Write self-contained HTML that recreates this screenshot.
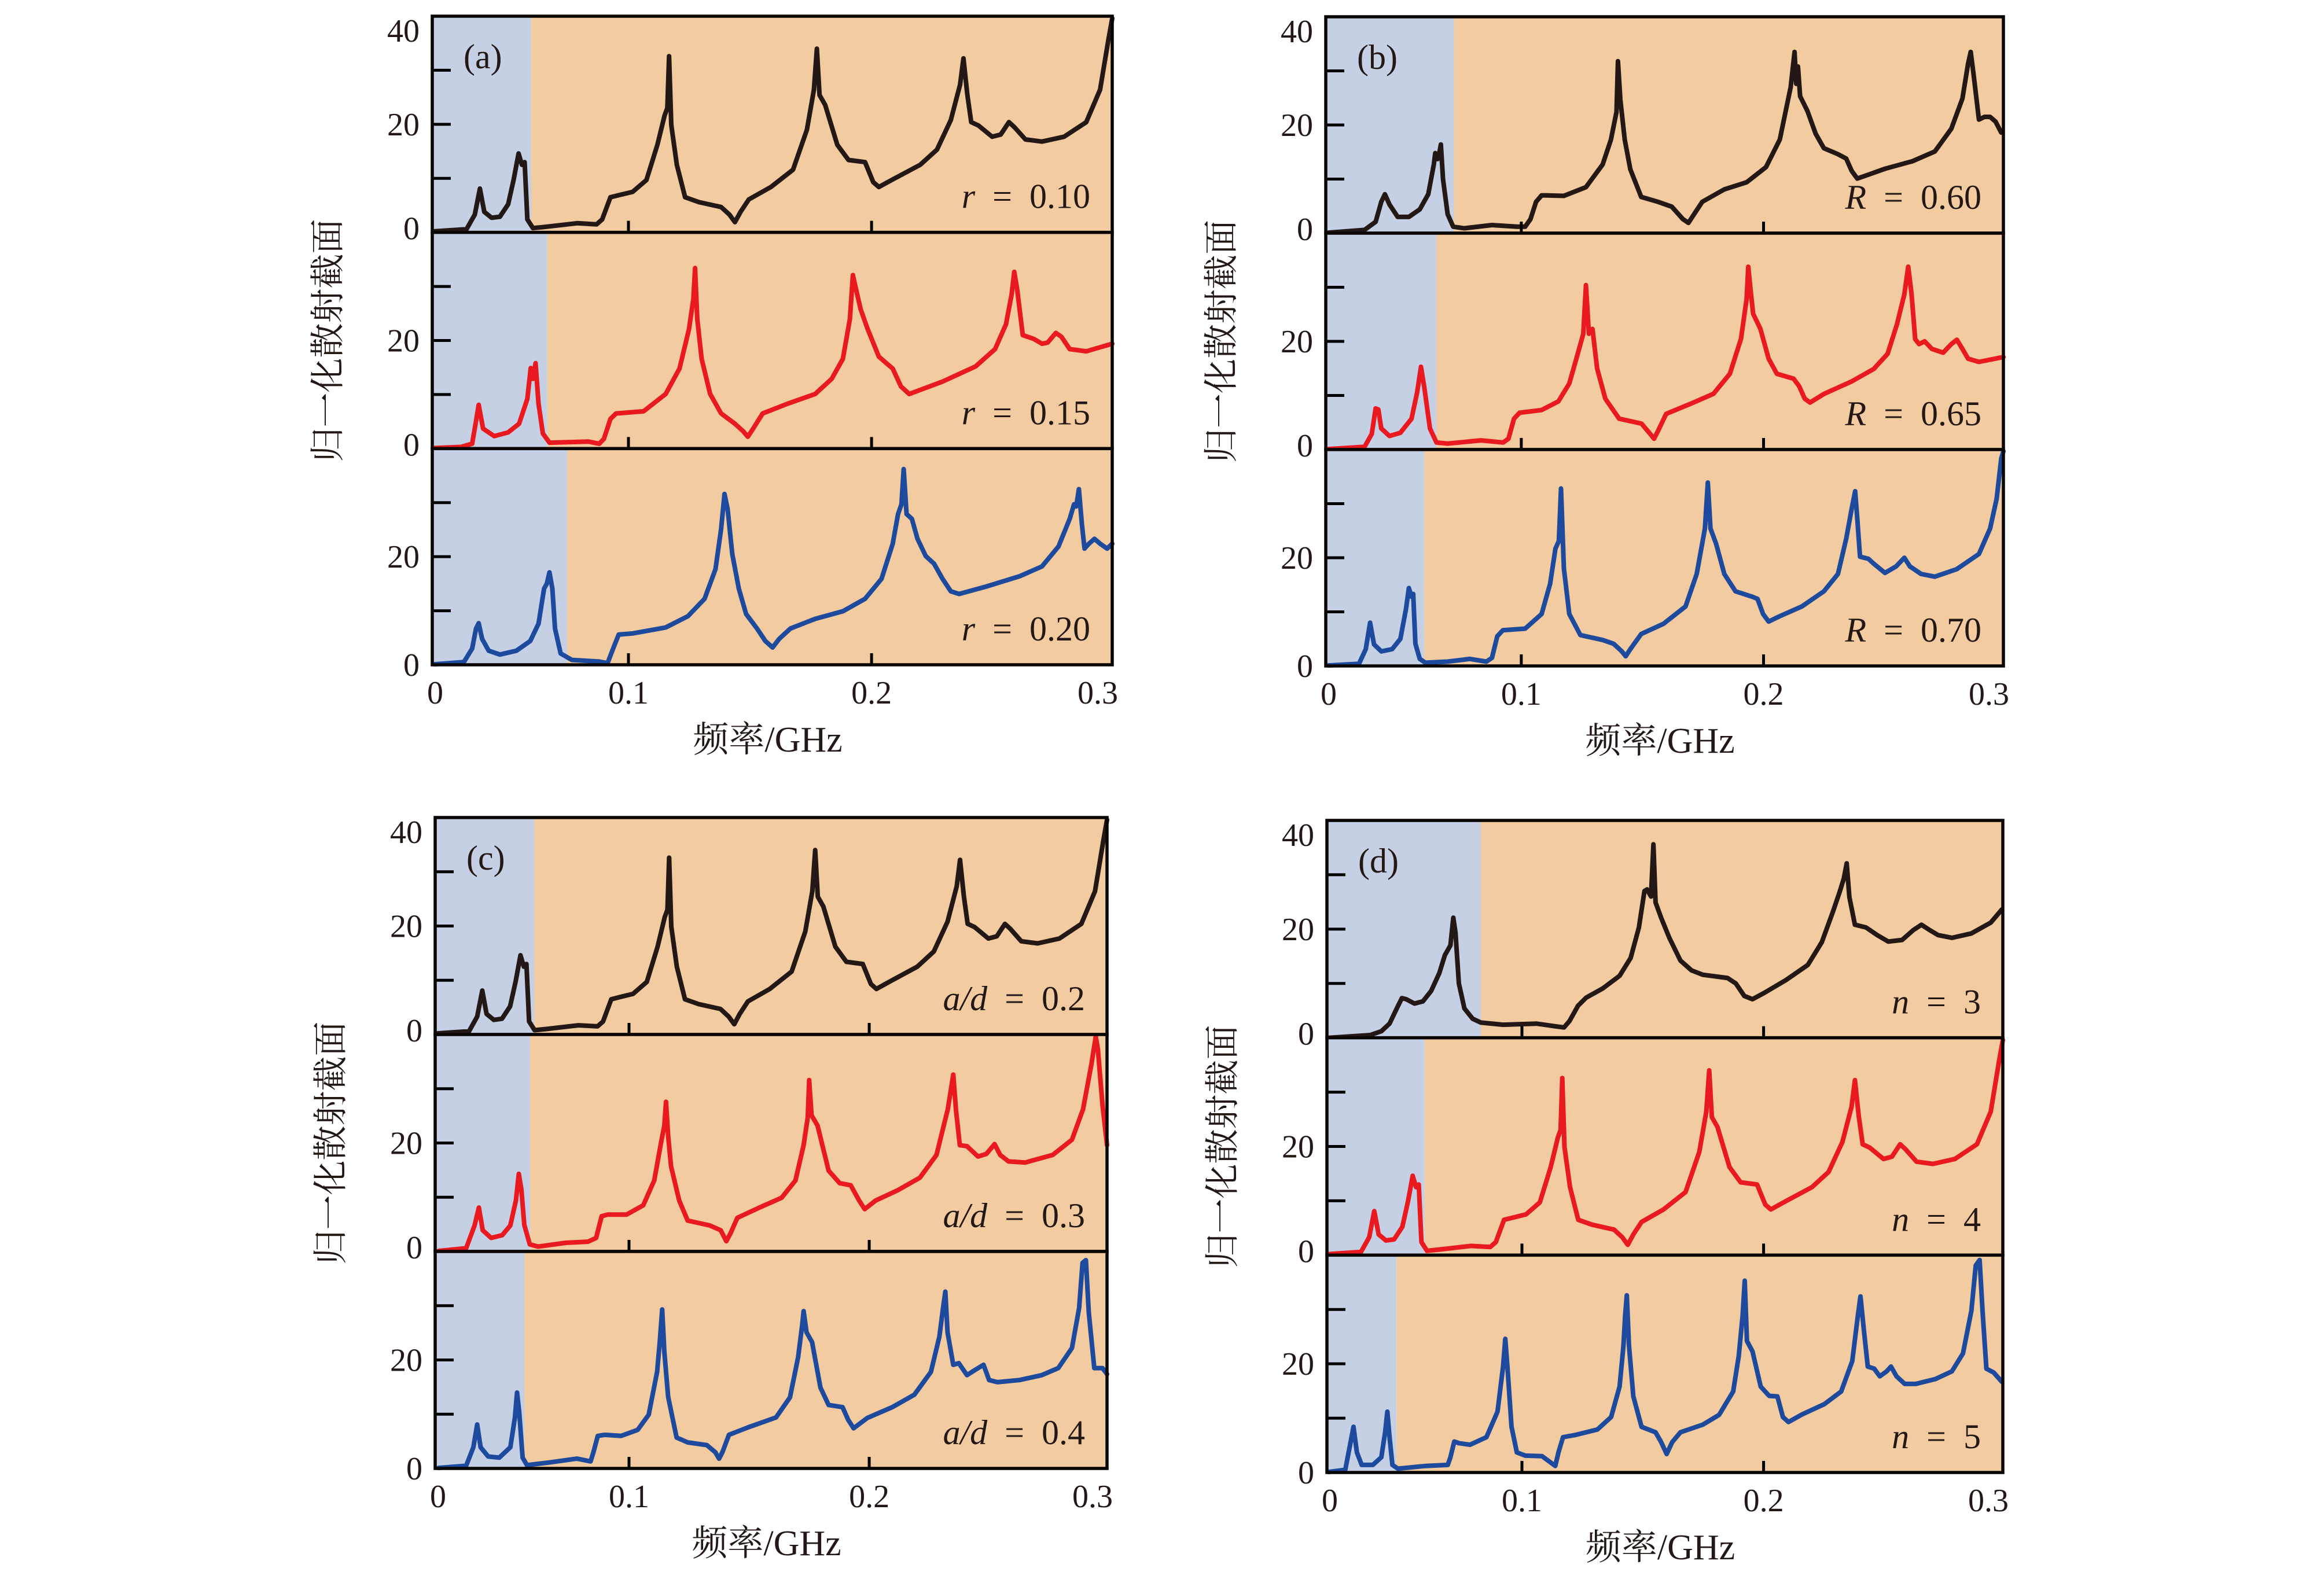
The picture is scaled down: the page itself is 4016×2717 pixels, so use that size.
<!DOCTYPE html>
<html><head><meta charset="utf-8"><style>
html,body{margin:0;padding:0;background:#fff;}
svg{display:block;}
text{font-family:"Liberation Serif","Noto Serif CJK SC",serif;fill:#231815;}
</style></head><body>
<svg id="fig" xmlns="http://www.w3.org/2000/svg" width="4016" height="2717" viewBox="0 0 4016 2717"></svg>
<script>
// ---- data: frequency (GHz) and normalized cross section ----
const a1F=[.0202,.0334,.0368,.0389,.0407,.0437,.0471,.0505,.0528,.0548,.0562,.0573,.0584,.0607,.0653,.0789,.0869,.0892,.0926,.0971,.1017,.1074,.1119,.1149,.1160,.1167,.1176,.1199,.1233,.1290,.1381,.1415,.1438,.1461,.1495,.1586,.1677,.1734,.1763,.1775,.1786,.1809,.1859,.1905,.1973,.2007,.2030,.2087,.2200,.2269,.2326,.2364,.2378,.2394,.2410,.2439,.2496,.2531,.2565,.2587,.2633,.2701,.2792,.2883,.2940,.2974,.2990];
const a1V=[0.2,0.6,3.3,8.1,3.8,2.7,2.9,5.2,9.8,14.6,12.5,13.0,2.4,0.8,1.0,1.7,1.5,2.4,6.5,7.0,7.5,9.7,16.2,21.7,23.0,32.6,19.9,12.5,6.5,5.6,4.7,3.3,1.9,3.8,6.1,8.4,11.6,19.0,26.4,34.0,25.4,23.6,16.2,13.4,13.0,9.3,8.4,9.8,12.5,15.3,20.8,27.3,32.2,25.5,20.4,19.8,17.7,18.1,20.4,19.5,17.2,16.8,17.7,20.4,26.4,35.6,39.6];
const a2F=[.0202,.0311,.0357,.0373,.0384,.0402,.0448,.0505,.0550,.0584,.0598,.0607,.0618,.0630,.0648,.0675,.0835,.0880,.0899,.0926,.0949,.1062,.1153,.1210,.1249,.1267,.1274,.1283,.1301,.1336,.1381,.1438,.1472,.1491,.1513,.1552,.1654,.1768,.1836,.1882,.1911,.1923,.1936,.1955,.1984,.2030,.2087,.2121,.2155,.2292,.2428,.2508,.2553,.2576,.2587,.2599,.2622,.2667,.2701,.2724,.2758,.2781,.2815,.2883,.2990];
const a2V=[0.1,0.3,0.9,5.1,8.1,3.7,2.3,3.0,4.6,9.2,14.9,12.9,15.8,8.3,2.8,1.1,1.3,0.9,1.8,5.5,6.5,6.9,10.1,14.8,22.1,27.7,33.4,24.0,16.6,10.1,6.5,4.6,3.2,2.2,3.7,6.5,8.3,10.1,12.9,16.6,24.0,32.1,29.5,25.8,22.1,17.0,14.8,11.5,10.1,12.4,15.2,18.4,23.0,28.5,32.7,29.5,21.0,20.3,19.4,19.6,21.4,20.7,18.4,18.0,19.4];
const a3F=[.0202,.0323,.0357,.0373,.0384,.0398,.0425,.0471,.0539,.0596,.0630,.0653,.0664,.0675,.0687,.0698,.0721,.0767,.0880,.0914,.0937,.0960,.1017,.1153,.1245,.1313,.1358,.1381,.1395,.1408,.1427,.1454,.1484,.1529,.1563,.1593,.1620,.1666,.1768,.1882,.1973,.2041,.2087,.2109,.2123,.2132,.2144,.2166,.2189,.2223,.2257,.2292,.2326,.2360,.2474,.2610,.2701,.2769,.2815,.2833,.2842,.2853,.2865,.2876,.2894,.2917,.2940,.2969,.2990];
const a3V=[0.1,0.5,3.0,6.7,7.7,4.8,2.6,1.9,2.6,4.4,7.6,14.1,15.0,17.1,14.1,6.7,2.1,0.9,0.6,0.3,3.0,5.6,5.8,6.9,9.0,12.2,17.7,25.1,31.6,28.8,20.5,14.1,9.4,6.7,4.4,3.2,4.8,6.7,8.5,9.9,12.2,15.9,22.4,27.9,29.7,36.2,27.9,27.0,23.3,20.1,18.7,15.9,13.6,13.1,14.5,16.4,18.2,21.9,27.0,29.7,29.3,32.5,26.1,21.5,22.4,23.3,22.4,21.5,22.4];
const b1F=[.0204,.0353,.0399,.0422,.0437,.0456,.0490,.0536,.0581,.0616,.0639,.0645,.0655,.0661,.0668,.0677,.0696,.0719,.0764,.0879,.0981,.1016,.1038,.1061,.1084,.1176,.1267,.1336,.1370,.1393,.1399,.1409,.1427,.1450,.1495,.1564,.1621,.1667,.1690,.1713,.1747,.1838,.1930,.2010,.2067,.2112,.2128,.2135,.2142,.2151,.2181,.2215,.2249,.2307,.2341,.2364,.2387,.2432,.2501,.2615,.2707,.2775,.2821,.2844,.2855,.2867,.2889,.2912,.2935,.2958,.2981];
const b1V=[0.1,0.6,2.1,5.8,7.2,5.3,3.0,3.0,4.4,7.2,12.7,14.8,13.7,14.6,16.4,10.0,3.5,1.2,0.9,1.5,1.2,1.2,2.6,5.8,7.0,6.9,8.5,12.7,17.3,22.4,31.8,24.6,17.3,11.8,6.7,5.8,4.9,2.6,1.9,3.5,5.8,8.1,9.4,12.2,17.3,27.0,33.5,27.6,30.8,25.3,22.6,18.4,15.7,14.6,13.8,11.5,10.1,10.8,11.9,13.3,15.1,19.3,24.9,31.3,33.5,29.3,21.0,21.5,21.5,20.6,18.6];
const b2F=[.0204,.0353,.0383,.0399,.0410,.0422,.0456,.0501,.0547,.0570,.0586,.0600,.0623,.0650,.0696,.0833,.0925,.0947,.0970,.0993,.1084,.1153,.1198,.1233,.1256,.1267,.1279,.1294,.1313,.1347,.1404,.1496,.1530,.1548,.1564,.1598,.1701,.1793,.1861,.1907,.1930,.1937,.1946,.1957,.1987,.2021,.2055,.2124,.2147,.2170,.2192,.2250,.2364,.2455,.2512,.2551,.2581,.2597,.2611,.2626,.2642,.2665,.2695,.2741,.2775,.2798,.2821,.2844,.2889,.2990];
const b2V=[0.1,0.5,2.9,7.6,7.4,3.9,2.5,3.1,5.7,10.5,15.3,11.4,3.9,1.3,1.1,1.7,1.3,2.0,5.7,6.8,7.3,8.9,12.2,17.7,21.4,30.4,21.4,22.3,15.0,9.4,5.7,4.8,3.0,2.0,3.4,6.6,8.5,10.3,14.0,20.5,27.8,33.8,29.7,25.1,22.3,16.8,14.0,13.1,11.7,9.4,8.7,10.3,12.6,14.9,17.7,23.2,28.7,33.8,28.7,20.4,19.5,20.0,18.6,17.9,19.5,20.3,18.6,16.8,16.2,17.1];
const b3F=[.0204,.0330,.0358,.0376,.0392,.0422,.0467,.0501,.0524,.0536,.0547,.0554,.0563,.0581,.0604,.0696,.0787,.0856,.0879,.0901,.0924,.1016,.1084,.1119,.1141,.1155,.1164,.1176,.1198,.1244,.1336,.1381,.1415,.1431,.1450,.1495,.1587,.1678,.1724,.1758,.1770,.1781,.1804,.1838,.1884,.1953,.1975,.1998,.2021,.2067,.2158,.2249,.2307,.2341,.2364,.2378,.2387,.2398,.2433,.2455,.2501,.2547,.2581,.2604,.2650,.2707,.2798,.2889,.2935,.2962,.2981,.2990];
const b3V=[0.1,0.4,3.1,8.0,4.0,2.7,3.1,5.0,10.5,14.4,12.8,13.3,4.1,1.3,0.6,0.8,1.3,0.8,1.5,5.5,6.6,6.9,9.6,15.2,21.7,23.1,32.8,18.0,9.6,5.7,4.8,4.1,2.7,1.8,3.1,5.9,7.8,11.0,17.0,25.4,33.9,25.4,22.6,17.0,13.8,12.8,12.4,9.6,8.2,9.2,11.0,13.8,17.0,23.5,29.1,32.3,27.2,20.2,19.8,18.9,17.2,18.4,20.0,18.4,17.0,16.5,17.9,20.7,25.4,30.9,38.3,39.7];
const c1F=a1F.slice();
const c1V=a1V.slice();
const c2F=[.0207,.0322,.0357,.0375,.0391,.0426,.0472,.0506,.0529,.0541,.0552,.0564,.0587,.0622,.0737,.0829,.0863,.0886,.0910,.0990,.1059,.1105,.1133,.1147,.1154,.1163,.1175,.1209,.1244,.1336,.1382,.1405,.1423,.1451,.1543,.1635,.1693,.1727,.1744,.1750,.1760,.1785,.1831,.1877,.1923,.1958,.1981,.2027,.2119,.2211,.2280,.2327,.2350,.2361,.2377,.2407,.2453,.2488,.2522,.2545,.2580,.2649,.2764,.2844,.2890,.2925,.2943,.2952,.2971,.2990];
const c2V=[0.1,0.6,4.8,8.1,3.9,2.5,3.0,4.8,9.4,14.3,11.4,4.9,1.3,0.9,1.6,1.8,2.5,6.5,6.8,6.8,8.5,13.1,20.0,23.2,27.6,21.3,15.7,9.4,5.7,4.8,3.9,1.9,3.4,6.2,8.1,9.9,13.1,19.6,24.7,31.6,25.1,23.2,14.9,12.6,12.2,9.4,7.8,9.4,11.3,13.6,17.8,26.2,32.6,26.2,19.6,19.4,17.5,18.0,19.8,17.8,16.6,16.4,17.8,20.6,26.2,34.5,39.6,37.3,27.1,19.6];
const c3F=[.0207,.0322,.0352,.0368,.0382,.0414,.0460,.0506,.0525,.0534,.0543,.0557,.0575,.0668,.0783,.0840,.0852,.0870,.0898,.0967,.1036,.1082,.1117,.1128,.1138,.1147,.1163,.1198,.1244,.1324,.1359,.1375,.1389,.1416,.1497,.1612,.1670,.1704,.1721,.1727,.1739,.1762,.1797,.1831,.1889,.1912,.1935,.1992,.2096,.2188,.2257,.2292,.2308,.2317,.2326,.2350,.2373,.2407,.2442,.2476,.2499,.2534,.2626,.2718,.2787,.2844,.2874,.2888,.2902,.2914,.2937,.2971,.2990];
const c3V=[0.1,0.5,3.9,8.1,3.9,2.2,2.0,3.9,9.4,14.0,10.3,2.0,0.6,1.1,1.8,1.3,3.0,6.0,6.2,6.0,7.1,9.9,17.8,23.3,29.3,21.5,13.2,5.7,4.8,4.3,3.0,1.8,3.0,6.2,7.6,9.4,13.1,20.5,26.5,29.0,25.1,23.3,14.9,11.7,11.3,9.0,7.4,9.3,11.3,13.6,17.8,24.3,29.8,32.6,25.1,19.1,19.4,17.2,18.2,19.1,16.3,15.9,16.3,17.2,18.5,22.2,29.6,37.9,38.4,28.7,18.5,18.5,17.4];
const d1F=[.0200,.0372,.0418,.0452,.0482,.0503,.0521,.0555,.0590,.0624,.0658,.0681,.0704,.0716,.0725,.0739,.0762,.0796,.0830,.0922,.1060,.1140,.1174,.1197,.1232,.1266,.1335,.1404,.1450,.1484,.1507,.1518,.1534,.1544,.1553,.1576,.1610,.1656,.1702,.1748,.1851,.1885,.1920,.1954,.2000,.2092,.2183,.2241,.2287,.2316,.2332,.2344,.2355,.2378,.2424,.2470,.2516,.2573,.2619,.2653,.2688,.2722,.2780,.2860,.2940,.2986];
const d1V=[0,0.5,1.2,2.6,5.4,7.3,7.1,6.3,6.7,8.6,11.9,15.2,17.0,22.1,19.3,10.0,5.4,3.5,2.8,2.4,2.6,2.1,1.9,3.1,5.9,7.4,9.1,11.4,14.7,20.3,27.0,27.3,26.0,35.6,24.9,22.1,18.4,14.2,12.4,11.6,11.0,10.0,7.7,7.1,8.2,10.6,13.4,17.6,23.2,27.0,29.3,32.1,25.9,20.8,20.3,18.9,17.7,18.0,19.8,20.8,19.8,18.9,18.4,19.2,21.2,23.6];
const d2F=a1F.slice();
const d2V=a1V.slice();
const d3F=[.0200,.0269,.0287,.0303,.0317,.0337,.0383,.0418,.0434,.0443,.0452,.0464,.0487,.0601,.0693,.0704,.0720,.0739,.0785,.0853,.0899,.0922,.0931,.0940,.0957,.0979,.1014,.1083,.1117,.1138,.1151,.1170,.1220,.1312,.1369,.1404,.1420,.1427,.1434,.1443,.1461,.1495,.1553,.1576,.1599,.1622,.1656,.1748,.1816,.1874,.1897,.1913,.1922,.1931,.1954,.1988,.2023,.2057,.2080,.2103,.2160,.2252,.2321,.2367,.2390,.2401,.2413,.2431,.2458,.2481,.2509,.2527,.2550,.2584,.2630,.2711,.2779,.2825,.2860,.2878,.2894,.2906,.2922,.2952,.2986];
const d3V=[0.1,0.5,4.7,8.4,3.7,1.4,1.4,2.8,7.4,11.2,6.5,1.4,0.7,1.2,1.4,2.8,5.7,5.4,5.1,6.5,11.2,19.5,24.6,19.5,8.4,3.7,3.1,3.0,1.9,1.2,3.7,6.5,6.9,7.9,10.2,15.8,23.3,28.8,32.6,23.3,14.0,8.4,7.4,5.6,3.4,5.6,7.4,8.8,10.6,14.9,21.4,28.8,35.3,24.2,22.3,15.8,14.1,14.0,10.2,9.3,10.7,12.6,14.9,20.5,28.8,32.4,27.0,19.5,19.1,17.7,18.6,19.5,17.7,16.3,16.3,17.2,18.6,21.9,29.8,38.1,39.1,29.8,19.1,18.4,16.7];
// band-gap (shaded) boundaries in GHz per subpanel
const shadeA=[0.0600,0.0666,0.0748];
const shadeB=[0.0722,0.0649,0.0600];
const shadeC=[0.0606,0.0589,0.0565];
const shadeD=[0.0830,0.0597,0.0481];
// axis definitions
const xDomain=[0.0193,0.299];
const yDomain=[0,40];
const xTickVals=[0.1,0.2];
const xLabelVals=[0,0.1,0.2,0.3];
const xLabelText=["0","0.1","0.2","0.3"];
const yTickVals=[10,20,30];
const legA=[["r","\u2002=\u20020.10"],["r","\u2002=\u20020.15"],["r","\u2002=\u20020.20"]];
const legB=[["R","\u2002=\u20020.60"],["R","\u2002=\u20020.65"],["R","\u2002=\u20020.70"]];
const legC=[["a/d","\u2002=\u20020.2"],["a/d","\u2002=\u20020.3"],["a/d","\u2002=\u20020.4"]];
const legD=[["n","\u2002=\u20023"],["n","\u2002=\u20024"],["n","\u2002=\u20025"]];

const COLORS=["#231815","#e8191f","#1d4a9c"];
const panels=[
 {id:"a",L:747,R:1922,T:28,B:1149,shade:shadeA,leg:legA,s:[[a1F,a1V],[a2F,a2V],[a3F,a3V]]},
 {id:"b",L:2291,R:3462,T:29,B:1151,shade:shadeB,leg:legB,s:[[b1F,b1V],[b2F,b2V],[b3F,b3V]]},
 {id:"c",L:752,R:1913,T:1413,B:2538,shade:shadeC,leg:legC,s:[[c1F,c1V],[c2F,c2V],[c3F,c3V]]},
 {id:"d",L:2293,R:3461,T:1418,B:2545,shade:shadeD,leg:legD,s:[[d1F,d1V],[d2F,d2V],[d3F,d3V]]}
];
const NS="http://www.w3.org/2000/svg";
const svg=document.getElementById("fig");
function mk(tag,attrs,parent){const e=document.createElementNS(NS,tag);for(const k in attrs)e.setAttribute(k,attrs[k]);(parent||svg).appendChild(e);return e;}

panels.forEach(p=>{
  const g=mk("g",{});
  
  
  const sh=(p.B-p.T)/3;
  const xs=f=>p.L+(f-xDomain[0])/(xDomain[1]-xDomain[0])*(p.R-p.L);
  for(let k=0;k<3;k++){
    const top=p.T+k*sh, bot=top+sh;
    const ys=v=>bot-(v-yDomain[0])/(yDomain[1]-yDomain[0])*sh;
    const sx=xs(p.shade[k]);
    const r1=mk("rect",{x:p.L,y:top,width:sx-p.L,height:sh,fill:"#c5d0e4"},g);
    
    
    const r2=mk("rect",{x:sx,y:top,width:p.R-sx,height:sh,fill:"#f2cba1"},g);
    
    
    const F=p.s[k][0],V=p.s[k][1];
    const pts=F.map((f,i)=>xs(f).toFixed(1)+","+ys(Math.min(V[i],40)).toFixed(1)).join(" ");
    const pl=mk("polyline",{points:pts,fill:"none",stroke:COLORS[k],"stroke-width":8,"stroke-linejoin":"round","stroke-linecap":"round"},g);
    
    
    yTickVals.forEach(t=>{
      const ln=mk("line",{x1:p.L,x2:p.L+32,y1:ys(t),y2:ys(t),stroke:"#000","stroke-width":5},g);
      
      
    });
    xTickVals.forEach(t=>{
      const ln=mk("line",{x1:xs(t),x2:xs(t),y1:bot,y2:bot-20,stroke:"#000","stroke-width":5},g);
      
      
    });
    const fr=mk("rect",{x:p.L,y:top,width:p.R-p.L,height:sh,fill:"none",stroke:"#0a0604","stroke-width":5.5},g);
    
    
    const l20=mk("text",{x:p.L-22,y:ys(20)+19,"text-anchor":"end","font-size":56},g);
    l20.textContent="20";
    
    
    const l0=mk("text",{x:p.L-22,y:bot+(k===2?19:12),"text-anchor":"end","font-size":56},g);
    l0.textContent="0";
    
    
    if(k===0){
      const l40=mk("text",{x:p.L-22,y:top+44,"text-anchor":"end","font-size":56},g);
      l40.textContent="40";
      
      
    }
    const lg=mk("text",{x:p.R-38,y:bot-42,"text-anchor":"end","font-size":60},g);
    
    
    const it=mk("tspan",{"font-style":"italic"},lg);
    it.textContent=p.leg[k][0];
    const nm=mk("tspan",{},lg);
    nm.textContent=p.leg[k][1];
  }
  const pl=mk("text",{x:p.L+54,y:p.T+90,"font-size":60},g);
  pl.textContent="("+p.id+")";
  
  
  xLabelVals.forEach((v,i)=>{
    let x=Math.max(p.L+5,Math.min(p.R-25,xs(v)));
    const t=mk("text",{x:x,y:p.B+67,"text-anchor":"middle","font-size":56},g);
    t.textContent=xLabelText[i];
    
    
  });
  const xt=mk("text",{x:(p.L+p.R)/2-8,y:p.B+150,"text-anchor":"middle","font-size":62},g);
  xt.textContent="频率/GHz";
  
  
  const cy=(p.T+p.B)/2;
  const yt=mk("text",{x:p.L-160,y:cy,"text-anchor":"middle","font-size":60,transform:"rotate(-90 "+(p.L-160)+" "+cy+")"},g);
  yt.textContent="归一化散射截面";
  
  
});
</script>
</body></html>
